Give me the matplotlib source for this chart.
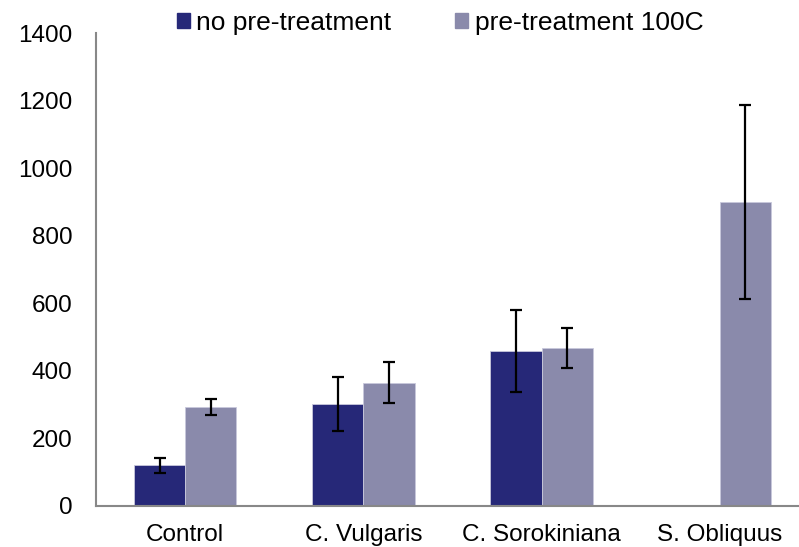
import matplotlib
matplotlib.use("Agg")
import matplotlib.pyplot as plt
import numpy as np
from matplotlib.patches import Patch

plt.rcParams['font.family'] = ['Liberation Sans', 'DejaVu Sans']

categories = ["Control", "C. Vulgaris", "C. Sorokiniana", "S. Obliquus"]
series_names = ["no pre-treatment", "pre-treatment 100C"]
no_pre = [120, 301, 458, 0]
no_pre_err = [22, 80, 122, 0]
pre_100 = [294, 365, 468, 900]
pre_100_err = [24, 60, 60, 288]
yticks = [0, 200, 400, 600, 800, 1000, 1200, 1400]

c_dark = "#262878"
c_light = "#8A8AAB"

W, H = 799, 547
fig = plt.figure(figsize=(W/100, H/100), dpi=100)
left, right, bottom, top = 96, 799, 506, 33
ax = fig.add_axes([left/W, 1 - bottom/H, (right-left)/W, (bottom-top)/H])

x = np.arange(len(categories))
bw = 0.287
ax.bar(x - bw/2, no_pre, bw, color=c_dark, edgecolor="#c8c8dc", linewidth=0.6, zorder=2)
ax.bar(x + bw/2, pre_100, bw, color=c_light, edgecolor="#c8c8dc", linewidth=0.6, zorder=2)
mask = [i for i in range(len(no_pre)) if no_pre[i] > 0]
ax.errorbar(x[mask] - bw/2, [no_pre[i] for i in mask], yerr=[no_pre_err[i] for i in mask],
            fmt='none', ecolor='black', elinewidth=1.6, capsize=4.5, capthick=1.6, zorder=3)
ax.errorbar(x + bw/2, pre_100, yerr=pre_100_err,
            fmt='none', ecolor='black', elinewidth=1.6, capsize=4.5, capthick=1.6, zorder=3)

ax.set_ylim(0, 1400)
ax.set_yticks(yticks)
ax.set_xlim(-0.5, 3.5 - 10/178)
ax.set_xticks(x)
ax.set_xticklabels(categories)
ax.tick_params(axis='both', length=0, labelsize=17.5, colors='black')
ax.tick_params(axis='y', pad=17)
ax.tick_params(axis='x', pad=13)
for s in ['top', 'right']:
    ax.spines[s].set_visible(False)
for s in ['left', 'bottom']:
    ax.spines[s].set_color('#888888')
    ax.spines[s].set_linewidth(1.5)

handles = [Patch(color=c_dark), Patch(color=c_light)]
fig.legend(handles, series_names, loc='upper left', bbox_to_anchor=(166/W, 1 - 0/H),
           ncol=2, frameon=False, fontsize=19, handlelength=0.5, handleheight=0.5,
           handletextpad=0.25, columnspacing=2.4, borderaxespad=0)

fig.savefig("out.png", dpi=100)
